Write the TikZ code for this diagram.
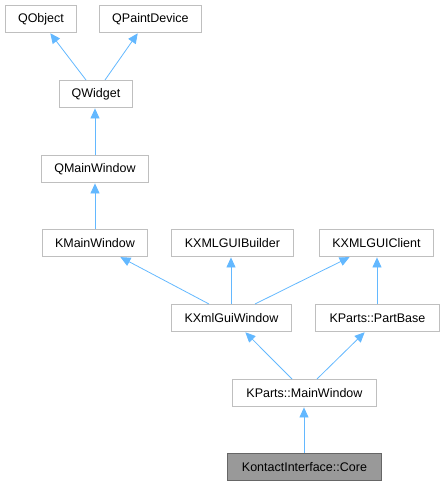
\documentclass[tikz,border=0pt]{standalone}
\usepackage{fontspec}
\setmainfont{Liberation Sans}
\usetikzlibrary{arrows.meta,calc}
\definecolor{edgeblue}{HTML}{63B8FF}
\definecolor{boxgray}{HTML}{BFBFBF}
\tikzset{
  cls/.style={draw=boxgray, line width=0.9pt, fill=white, minimum height=27pt, inner sep=0pt, font=\fontsize{12.5}{14}\selectfont, anchor=north west},
  cur/.style={cls, draw=black!60, fill=black!40},
  inh/.style={draw=edgeblue, line width=0.8pt, -{Triangle[width=9pt,length=10pt,fill=edgeblue]}, shorten >=0.5pt},
}
\newcommand{\inhedge}[4]{\draw[inh] ($(#1.north west)+(#2,0)$) -- ($(#3.south west)+(#4,0)$);}
\begin{document}
\begin{tikzpicture}[x=1pt,y=-1pt]
\useasboundingbox (0,0) rectangle (445,485);
\node[cls, minimum width=71pt] (qobj) at (5,5) {QObject};
\node[cls, minimum width=102pt] (qpd) at (99,5) {QPaintDevice};
\node[cls, minimum width=73pt] (qw) at (59,80) {QWidget};
\node[cls, minimum width=107pt] (qmw) at (41,155) {QMainWindow};
\node[cls, minimum width=105pt] (kmw) at (42,229) {KMainWindow};
\node[cls, minimum width=122pt] (kb) at (171,229) {KXMLGUIBuilder};
\node[cls, minimum width=114pt] (kc) at (319,229) {KXMLGUIClient};
\node[cls, minimum width=120pt] (kxw) at (171,304) {KXmlGuiWindow};
\node[cls, minimum width=124pt] (pb) at (315,304) {KParts::PartBase};
\node[cls, minimum width=144pt] (pmw) at (232,379) {KParts::MainWindow};
\node[cur, minimum width=154pt] (core) at (227,453) {KontactInterface::Core};

\inhedge{qw}{27}{qobj}{45}
\inhedge{qw}{46}{qpd}{39}
\inhedge{qmw}{54}{qw}{36}
\inhedge{kmw}{53}{qmw}{54}
\inhedge{kxw}{38}{kmw}{78}
\inhedge{kxw}{60}{kb}{60}
\inhedge{kxw}{84}{kc}{31}
\inhedge{pb}{62}{kc}{58}
\inhedge{pmw}{60}{kxw}{74}
\inhedge{pmw}{85}{pb}{50}
\inhedge{core}{77}{pmw}{72}
\end{tikzpicture}
\end{document}
